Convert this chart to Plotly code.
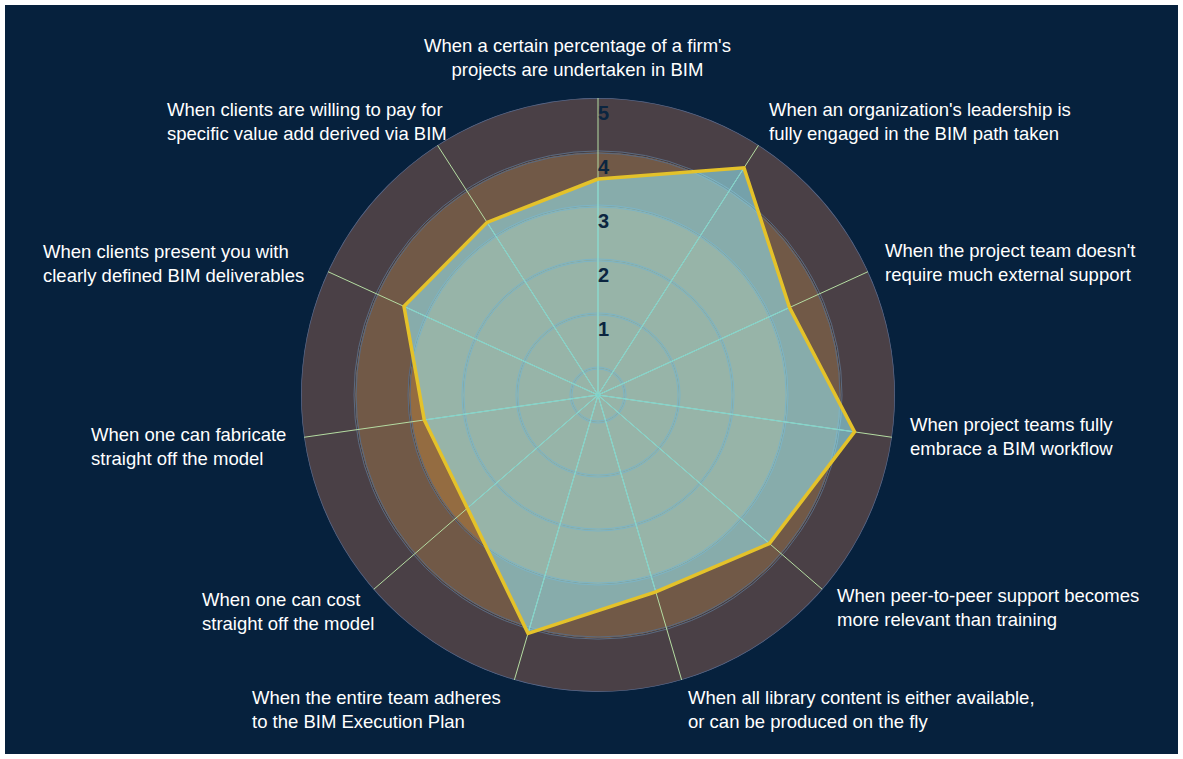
import math
import plotly.graph_objects as go

# ---- data -------------------------------------------------------------
categories = [
    "When a certain percentage of a firm's<br>projects are undertaken in BIM",
    "When an organization's leadership is<br>fully engaged in the BIM path taken",
    "When the project team doesn't<br>require much external support",
    "When project teams fully<br>embrace a BIM workflow",
    "When peer-to-peer support becomes<br>more relevant than training",
    "When all library content is either available,<br>or can be produced on the fly",
    "When the entire team adheres<br>to the BIM Execution Plan",
    "When one can cost<br>straight off the model",
    "When one can fabricate<br>straight off the model",
    "When clients present you with<br>clearly defined BIM deliverables",
    "When clients are willing to pay for<br>specific value add derived via BIM",
]
scores = [4.0, 5.0, 3.9, 4.8, 4.2, 3.8, 4.6, 3.2, 3.25, 3.95, 3.8]
radial_ticks = [1, 2, 3, 4, 5]

# concentric background bands (edges on the radial scale) and their colours
band_edges = [0, 0.5, 1.5, 2.5, 3.5, 4.5, 5.5]
band_colors = ["#946c41", "#946c41", "#946c41", "#946c41", "#715947", "#4a4046"]

# ---- page geometry ----------------------------------------------------
W, H = 1183, 759
CX, CY, R = 598, 395, 297          # polar centre / radius in px
R_MAX = band_edges[-1]
PX_PER_UNIT = R / R_MAX

PAGE = "#06213d"
SPOKE_OUT = "#b5dca2"
SPOKE_IN = "#7fd2ca"
RING_LINE = "#5c6b80"
RING_OUTER = "#56678a"
FILL = "rgba(153,240,253,0.55)"
GOLD = "#e4c22a"
NAVY = "#0b2540"
FONT = "Liberation Sans, Arial, Helvetica"

# small per-label nudges (px) applied on top of the radial placement rule
label_nudge = [(-21, -13), (0, 0), (0, 3), (0, -5), (0, 0), (0, 3),
               (-7, 3), (15, 4), (0, 5), (-7, 4), (20, 0)]

n = len(categories)
angles = [i * 360.0 / n for i in range(n)]

fig = go.Figure()

# background bands as full-circle polar bars
fig.add_trace(go.Barpolar(
    r=[band_edges[k + 1] - band_edges[k] for k in range(len(band_colors))],
    base=band_edges[:-1],
    theta=[0] * len(band_colors),
    width=[360] * len(band_colors),
    marker=dict(color=band_colors, line=dict(width=0)),
    hoverinfo="skip", showlegend=False,
))

# thin double rings on the inner band edges (2 px apart), single outer rim
gap = 1.0 / PX_PER_UNIT
inner_edges = band_edges[1:-1]
fig.add_trace(go.Barpolar(
    r=[2 * gap] * len(inner_edges),
    base=[e - gap for e in inner_edges],
    theta=[0] * len(inner_edges),
    width=[360] * len(inner_edges),
    marker=dict(color="rgba(0,0,0,0)", line=dict(color=RING_LINE, width=1)),
    hoverinfo="skip", showlegend=False,
))
fig.add_trace(go.Barpolar(
    r=[R_MAX], base=[0], theta=[0], width=[360],
    marker=dict(color="rgba(0,0,0,0)", line=dict(color=RING_OUTER, width=1.5)),
    hoverinfo="skip", showlegend=False,
))

# full-length spokes
sp_t, sp_r = [], []
for a in angles:
    sp_t += [a, a, None]
    sp_r += [0, R_MAX, None]
fig.add_trace(go.Scatterpolar(
    r=sp_r, theta=sp_t, mode="lines",
    line=dict(color=SPOKE_OUT, width=1),
    hoverinfo="skip", showlegend=False,
))

closed_r = scores + scores[:1]
closed_t = angles + angles[:1]

# translucent area
fig.add_trace(go.Scatterpolar(
    r=closed_r, theta=closed_t, mode="lines", fill="toself",
    fillcolor=FILL, line=dict(width=0, color="rgba(0,0,0,0)"),
    hoverinfo="skip", showlegend=False,
))

# spokes inside the area, up to each score
in_t, in_r = [], []
for a, s in zip(angles, scores):
    in_t += [a, a, None]
    in_r += [0, s, None]
fig.add_trace(go.Scatterpolar(
    r=in_r, theta=in_t, mode="lines",
    line=dict(color=SPOKE_IN, width=1),
    hoverinfo="skip", showlegend=False,
))

# outline of the scores
fig.add_trace(go.Scatterpolar(
    r=closed_r, theta=closed_t, mode="lines",
    line=dict(color=GOLD, width=3.5),
    hoverinfo="skip", showlegend=False,
))

# radial scale labels along the top spoke
fig.add_trace(go.Scatterpolar(
    r=radial_ticks, theta=[0] * len(radial_ticks), mode="text",
    text=[str(t) for t in radial_ticks], textposition="top right",
    textfont=dict(family=FONT, size=20, color=NAVY, weight="bold"),
    hoverinfo="skip", showlegend=False,
))

# category labels around the rim
annotations = []
for a, label, (dx, dy) in zip(angles, categories, label_nudge):
    th = math.radians(a)
    s, c = math.sin(th), math.cos(th)
    px = CX + (R + 16) * s + dx
    py = CY - (R + 28) * c + dy
    if abs(s) < 0.15:
        xa = "center"
    else:
        xa = "left" if s > 0 else "right"
    annotations.append(dict(
        x=px / W, y=1 - py / H, xref="paper", yref="paper",
        text=label, showarrow=False, xanchor=xa, yanchor="middle",
        align="left" if xa != "center" else "center",
        font=dict(family=FONT, size=18.5, color="white"),
    ))

fig.update_layout(
    width=W, height=H,
    margin=dict(l=0, r=0, t=0, b=0),
    paper_bgcolor="white",
    showlegend=False,
    shapes=[dict(type="rect", xref="paper", yref="paper",
                 x0=5 / W, x1=1178 / W, y0=1 - 754 / H, y1=1 - 5 / H,
                 fillcolor=PAGE, line=dict(width=0), layer="below")],
    annotations=annotations,
    polar=dict(
        domain=dict(x=[(CX - R) / W, (CX + R) / W],
                    y=[1 - (CY + R) / H, 1 - (CY - R) / H]),
        bgcolor="rgba(0,0,0,0)",
        barmode="overlay",
        radialaxis=dict(range=[0, R_MAX], visible=False),
        angularaxis=dict(rotation=90, direction="clockwise", visible=False),
    ),
)

fig.write_html("out.html")
